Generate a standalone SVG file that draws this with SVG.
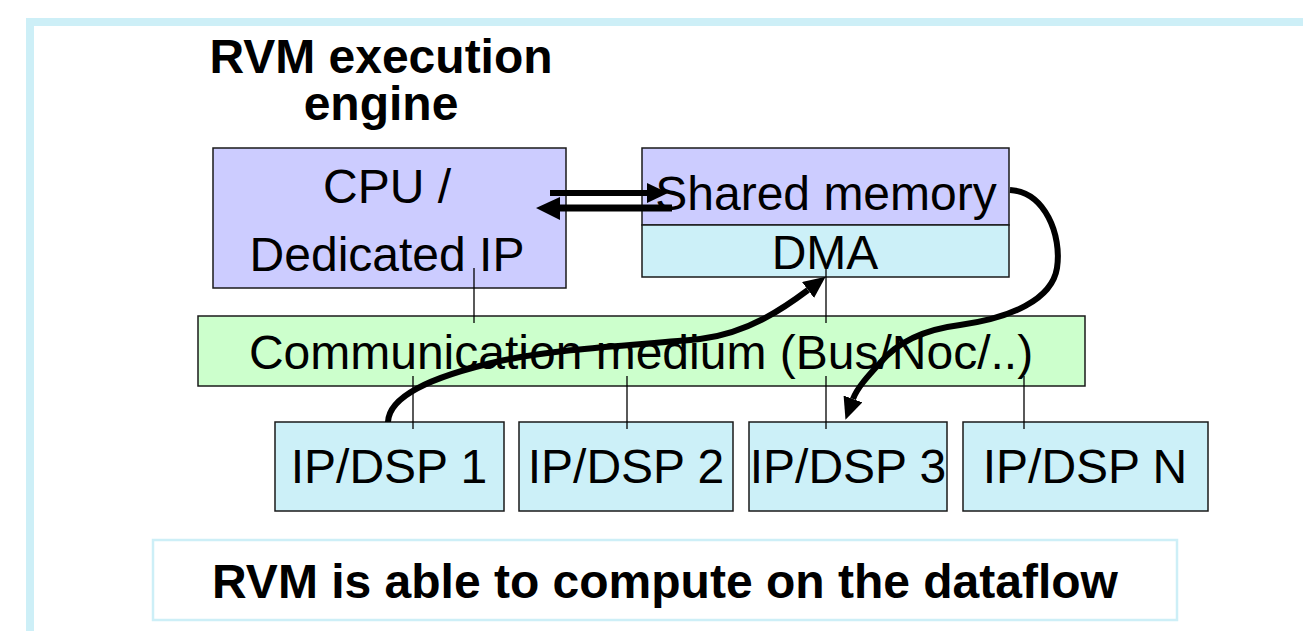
<svg xmlns="http://www.w3.org/2000/svg" width="1303" height="631" viewBox="0 0 1303 631">
  <style>
    .box { stroke: #1a1a1a; stroke-width: 1.5; }
    .cpu { fill: #ccccff; }
    .cyan { fill: #ccf0f8; }
    .bus { fill: #ccffcc; }
    .lbl { font-family: "Liberation Sans", Arial, sans-serif; font-size: 48px; fill: #000; text-anchor: middle; }
    .bold { font-weight: bold; }
    .wire { stroke: #000; stroke-width: 1.3; fill: none; }
    .flow { stroke: #000; stroke-width: 6; fill: none; }
    .thick { stroke: #000; fill: none; }
  </style>
  <defs>
    <marker id="head" markerUnits="userSpaceOnUse" markerWidth="24" markerHeight="22" refX="0" refY="10" orient="auto">
      <path d="M0,0 L22,10 L0,20 Z" fill="#000"/>
    </marker>
  </defs>

  <!-- page frame -->
  <rect x="30" y="22" width="1320" height="700" fill="#fff" stroke="#cdeff7" stroke-width="8"/>

  <!-- title -->
  <g id="title">
    <text class="lbl bold" x="381" y="73">RVM execution</text>
    <text class="lbl bold" x="381" y="120">engine</text>
  </g>

  <g id="cpu">
    <rect class="box cpu" x="213" y="148" width="353" height="140"/>
    <text class="lbl" x="387" y="203">CPU /</text>
    <text class="lbl" x="387" y="271">Dedicated IP</text>
  </g>

  <g id="shared-memory">
    <rect class="box cpu" x="642" y="148" width="367" height="77"/>
    <text class="lbl" x="826" y="210">Shared memory</text>
  </g>

  <g id="dma">
    <rect class="box cyan" x="642" y="225" width="367" height="52"/>
    <text class="lbl" x="825" y="269">DMA</text>
  </g>

  <g id="bus">
    <rect class="box bus" x="198" y="316" width="887" height="70"/>
    <text class="lbl" x="641" y="369">Communication medium (Bus/Noc/..)</text>
  </g>

  <g id="ip1">
    <rect class="box cyan" x="275" y="422" width="229" height="89"/>
    <text class="lbl" x="389" y="483">IP/DSP 1</text>
  </g>
  <g id="ip2">
    <rect class="box cyan" x="519" y="422" width="214" height="89"/>
    <text class="lbl" x="626" y="483">IP/DSP 2</text>
  </g>
  <g id="ip3">
    <rect class="box cyan" x="749" y="422" width="198" height="89"/>
    <text class="lbl" x="848" y="483">IP/DSP 3</text>
  </g>
  <g id="ipn">
    <rect class="box cyan" x="963" y="422" width="245" height="89"/>
    <text class="lbl" x="1085" y="483">IP/DSP N</text>
  </g>

  <g id="connectors">
    <!-- bus taps -->
    <line class="wire" x1="474" y1="268" x2="474" y2="323"/>
    <line class="wire" x1="826" y1="269" x2="826" y2="323"/>
    <line class="wire" x1="413" y1="376" x2="413" y2="429"/>
    <line class="wire" x1="627" y1="376" x2="627" y2="429"/>
    <line class="wire" x1="826" y1="376" x2="826" y2="429"/>
    <line class="wire" x1="1024" y1="376" x2="1024" y2="429"/>

    <!-- CPU <-> shared memory -->
    <line class="thick" x1="550" y1="193" x2="650" y2="193" stroke-width="6"/>
    <polygon points="647,183 668,193 647,203" fill="#000"/>
    <line class="thick" x1="556" y1="208" x2="672" y2="208" stroke-width="7"/>
    <polygon points="560,197 536,208 560,220" fill="#000"/>

    <!-- IP/DSP 1 -> DMA -->
    <path class="flow" d="M388,422 C389,398 425,378 500,361 C560,348 640,345 700,339 C750,333 788,305 808,290" marker-end="url(#head)"/>
    <!-- shared memory -> IP/DSP 3 -->
    <path class="flow" d="M1010,190 C1045,192 1062,235 1057,268 C1052,300 1010,318 960,325 C920,330 895,345 880,363 C868,376 857,388 853,399" marker-end="url(#head)"/>
  </g>

  <g id="note">
    <rect x="153" y="540" width="1024" height="80" fill="#fff" stroke="#cdeff7" stroke-width="2.5"/>
    <text class="lbl bold" x="665" y="598">RVM is able to compute on the dataflow</text>
  </g>
</svg>
